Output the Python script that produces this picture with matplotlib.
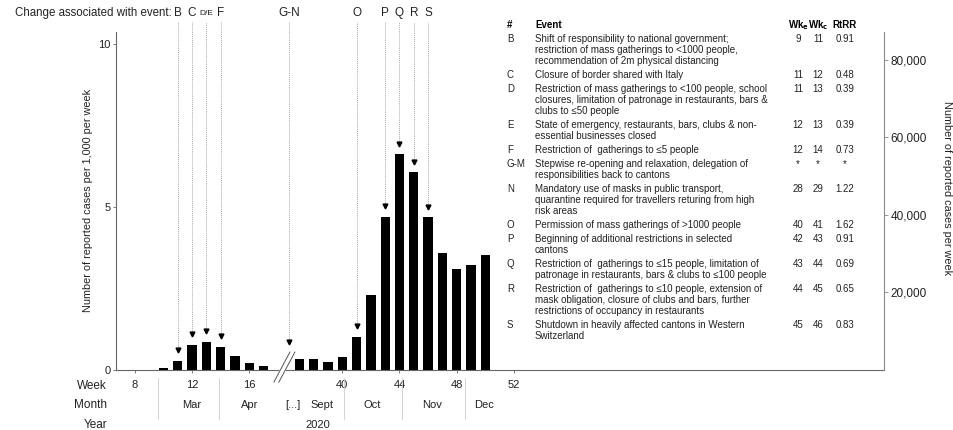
import matplotlib.pyplot as plt
from matplotlib.ticker import FuncFormatter

plt.rcParams['font.family'] = ['Liberation Sans', 'DejaVu Sans']

# weekly reported cases per 1,000 (2020)
weeks = [10, 11, 12, 13, 14, 15, 16, 17, 37, 38, 39, 40, 41, 42, 43, 44, 45, 46, 47, 48, 49, 50]
cases_per_1000 = [0.05, 0.28, 0.77, 0.87, 0.71, 0.43, 0.22, 0.13, 0.33, 0.33, 0.25, 0.41,
                  1.02, 2.30, 4.70, 6.62, 6.06, 4.68, 3.58, 3.09, 3.21, 3.53]

# events marked above the bars (None = falls in the gap)
event_tags = ['B', 'C', 'D/E', 'F', 'G-N', 'O', 'P', 'Q', 'R', 'S']
event_weeks = [11, 12, 13, 14, None, 41, 43, 44, 45, 46]
gap_level = 0.55

week_ticks = [8, 12, 16, 40, 44, 48, 52]
month_names = ['Mar', 'Apr', 'Sept', 'Oct', 'Nov', 'Dec']
month_mid = [12, 16, 38.6, 42.1, 46.3, 49.9]
month_edges = [9.6, 13.9, 40.1, 44.2, 48.6]

right_ticks = [20000, 40000, 60000, 80000]

# table
tab_tags = ['B', 'C', 'D', 'E', 'F', 'G-M', 'N', 'O', 'P', 'Q', 'R', 'S']
tab_text = [
    ['Shift of responsibility to national government;',
     'restriction of mass gatherings to <1000 people,',
     'recommendation of 2m physical distancing'],
    ['Closure of border shared with Italy'],
    ['Restriction of mass gatherings to <100 people, school',
     'closures, limitation of patronage in restaurants, bars &',
     'clubs to \u226450 people'],
    ['State of emergency, restaurants, bars, clubs & non-',
     'essential businesses closed'],
    ['Restriction of  gatherings to \u22645 people'],
    ['Stepwise re-opening and relaxation, delegation of',
     'responsibilities back to cantons'],
    ['Mandatory use of masks in public transport,',
     'quarantine required for travellers returing from high',
     'risk areas'],
    ['Permission of mass gatherings of >1000 people'],
    ['Beginning of additional restrictions in selected',
     'cantons'],
    ['Restriction of  gatherings to \u226415 people, limitation of',
     'patronage in restaurants, bars & clubs to \u2264100 people'],
    ['Restriction of  gatherings to \u226410 people, extension of',
     'mask obligation, closure of clubs and bars, further',
     'restrictions of occupancy in restaurants'],
    ['Shutdown in heavily affected cantons in Western',
     'Switzerland'],
]
wk_e = ['9', '11', '11', '12', '12', '*', '28', '40', '42', '43', '44', '45']
wk_c = ['11', '12', '13', '13', '14', '*', '29', '41', '43', '44', '45', '46']
rtrr = ['0.91', '0.48', '0.39', '0.39', '0.73', '*', '1.22', '1.62', '0.91', '0.69', '0.65', '0.83']


def wpos(w):
    # compress the summer gap (weeks 18-36)
    return w if w <= 17 else w - 37 + 19.5


W, H = 954, 430
def fx(px):
    return px / W
def fy(py):
    return 1 - py / H


TXT = '#222222'
fig = plt.figure(figsize=(9.54, 4.30), dpi=100)
ax = fig.add_axes([fx(116), 60 / H, 768 / W, 338 / H])
ax.set_xlim(6.68, 60.38)
ax.set_ylim(0, 10.37)

ax.bar([wpos(w) for w in weeks], cases_per_1000, width=0.65, color='black', zorder=3)

# event arrows
gap_x = 18.8
top_y = 10.67
for tag, wk in zip(event_tags, event_weeks):
    if wk is None:
        x, tip = gap_x, gap_level + 0.32
    else:
        x, tip = wpos(wk), cases_per_1000[weeks.index(wk)] + 0.32
    ax.plot([x, x], [tip, top_y], ls=(0, (1, 1)), color='#aaaaaa', lw=0.7, clip_on=False)
    ax.plot(x, tip, marker='v', ms=3.5, color='black', clip_on=False, zorder=4)
    fs = 6 if tag == 'D/E' else 8.5
    ax.text(x, 10.95, tag, ha='center', va='center', fontsize=fs, color=TXT, clip_on=False)
fig.text(fx(172), fy(13), 'Change associated with event:', ha='right', va='center',
         fontsize=8.3, color=TXT)

# axis break
bx = [17.72, 18.84]
by = [-0.37, 0.55]
ax.fill([bx[0], bx[1], bx[1] + 0.35, bx[0] + 0.35], [by[0], by[1], by[1], by[0]],
        color='white', zorder=5, clip_on=False)
for dx in (0, 0.35):
    ax.plot([bx[0] + dx, bx[1] + dx], by, color='#555555', lw=0.7, clip_on=False, zorder=6)

# axes styling
for s in ('top', 'right'):
    ax.spines[s].set_visible(False)
for s in ('left', 'bottom'):
    ax.spines[s].set_color('#666666')
    ax.spines[s].set_linewidth(0.8)
ax.set_yticks([0, 5, 10])
ax.tick_params(axis='y', length=2.5, width=0.6, pad=1.5, labelsize=8, colors='#666666',
               labelcolor=TXT)
ax.set_xticks([wpos(w) for w in week_ticks])
ax.set_xticklabels([str(w) for w in week_ticks])
ax.tick_params(axis='x', length=2.5, width=0.6, pad=4.5, labelsize=8, colors='#666666',
               labelcolor=TXT)

ax2 = ax.twinx()
ax2.set_ylim(0, 87200)
ax2.set_yticks(right_ticks)
ax2.yaxis.set_major_formatter(FuncFormatter(lambda v, p: f'{int(v):,}'))
for s in ('top', 'left', 'bottom'):
    ax2.spines[s].set_visible(False)
ax2.spines['right'].set_color('#888888')
ax2.spines['right'].set_linewidth(0.8)
ax2.tick_params(axis='y', length=3, width=0.6, pad=1.5, labelsize=8.5, colors='#888888',
                labelcolor=TXT)

fig.text(fx(88), fy(200), 'Number of reported cases per 1,000 per week', rotation=90,
         ha='center', va='center', fontsize=7.8, color=TXT)
fig.text(fx(947), fy(188), 'Number of reported cases per week', rotation=270,
         ha='center', va='center', fontsize=7.8, color=TXT)

# week / month / year rows
for lab, py in (('Week', 386), ('Month', 405), ('Year', 425)):
    fig.text(fx(107), fy(py), lab, ha='right', va='center', fontsize=8.5, color=TXT)
for name, mw in zip(month_names, month_mid):
    ax.text(wpos(mw), -1.08, name, ha='center', va='center', fontsize=8, color=TXT,
            clip_on=False)
ax.text(19.05, -1.08, '[...]', ha='center', va='center', fontsize=8, color=TXT,
        clip_on=False)
for e in month_edges:
    ax.plot([wpos(e), wpos(e)], [-0.25, -1.5], color='#cccccc', lw=0.6, clip_on=False)
ax.text(wpos(38.3), -1.68, '2020', ha='center', va='center', fontsize=8, color=TXT,
        clip_on=False)

# event table
tfs = 7
line_h = 11.2
row_gap = 2.6
fig.text(fx(507), fy(25), '#', ha='left', va='center', fontsize=tfs, weight='bold')
fig.text(fx(535), fy(25), 'Event', ha='left', va='center', fontsize=tfs, weight='bold')
fig.text(fx(798), fy(25), r'Wk$_\mathbf{e}$', ha='center', va='center', fontsize=tfs, weight='bold')
fig.text(fx(818), fy(25), r'Wk$_\mathbf{c}$', ha='center', va='center', fontsize=tfs, weight='bold')
fig.text(fx(845), fy(25), 'RtRR', ha='center', va='center', fontsize=tfs, weight='bold')
y = 39
for tag, lines, a, b, r in zip(tab_tags, tab_text, wk_e, wk_c, rtrr):
    fig.text(fx(507), fy(y), tag, ha='left', va='center', fontsize=tfs, color=TXT)
    for i, ln in enumerate(lines):
        fig.text(fx(535), fy(y + i * line_h), ln, ha='left', va='center', fontsize=tfs,
                 color=TXT)
    for val, px in ((a, 798), (b, 818), (r, 845)):
        fig.text(fx(px), fy(y), val, ha='center', va='center', fontsize=tfs, color=TXT)
    y += len(lines) * line_h + row_gap

fig.savefig('out.png', dpi=100)
